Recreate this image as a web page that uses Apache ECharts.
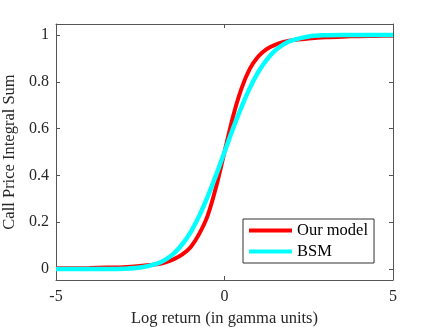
<!DOCTYPE html>
<html>
<head>
<meta charset="utf-8">
<script src="https://cdn.jsdelivr.net/npm/echarts@6/dist/echarts.min.js"></script>
<style>html,body{margin:0;padding:0;background:#fff;}#c{width:436px;height:327px;}</style>
</head>
<body>
<div id="c"></div>
<script>
var xValues = [-5, -4.5, -4, -3.5, -3, -2.5, -2, -1.75, -1.5, -1.25, -1, -0.75, -0.5, -0.25, 0, 0.25, 0.5, 0.75, 1, 1.25, 1.5, 1.75, 2, 2.5, 3, 3.5, 4, 4.5, 5];
var ourModel = [0.003, 0.0035, 0.004, 0.006, 0.008, 0.013, 0.020, 0.028, 0.042, 0.062, 0.094, 0.15, 0.228, 0.35, 0.5, 0.65, 0.77, 0.855, 0.908, 0.94, 0.958, 0.97, 0.978, 0.985, 0.99, 0.993, 0.995, 0.996, 0.997];
var bsm = [0.000, 0.000, 0.000, 0.000, 0.001, 0.006, 0.023, 0.040, 0.067, 0.106, 0.159, 0.227, 0.309, 0.401, 0.5, 0.599, 0.691, 0.773, 0.841, 0.894, 0.933, 0.960, 0.977, 0.994, 0.999, 1.0, 1.0, 1.0, 1.0];
var seriesNames = ['Our model', 'BSM'];
var yTicks = [0, 0.2, 0.4, 0.6, 0.8, 1];
var xTicks = [-5, 0, 5];

function pairs(xs, ys) { return xs.map(function (x, i) { return [x, ys[i]]; }); }

var font = 'Liberation Serif';
var axisCol = '#555';
var textCol = '#262626';
var chart = echarts.init(document.getElementById('c'));
chart.setOption({
  animation: false,
  backgroundColor: '#fff',
  textStyle: { fontFamily: font },
  grid: { left: 56, right: 43, top: 24, bottom: 47, show: false, containLabel: false, outerBoundsMode: 'none' },
  legend: {
    data: seriesNames,
    orient: 'vertical',
    left: 243, top: 219,
    borderColor: '#333', borderWidth: 1, borderRadius: 0,
    backgroundColor: '#fff',
    padding: [3, 6, 3, 6],
    itemGap: 4,
    itemWidth: 43, itemHeight: 4,
    icon: 'rect',
    textStyle: { fontFamily: font, fontSize: 16.5, color: '#000' }
  },
  xAxis: [{
    type: 'value', min: -5, max: 5, interval: 5, position: 'bottom',
    name: 'Log return (in gamma units)', nameLocation: 'middle', nameGap: 28,
    nameTextStyle: { fontFamily: font, fontSize: 16.5, color: textCol },
    axisLine: { show: true, onZero: false, lineStyle: { color: axisCol, width: 1 } },
    axisTick: { show: true, inside: true, length: 4, lineStyle: { color: axisCol } },
    axisLabel: { fontFamily: font, fontSize: 16, color: textCol, margin: 9 },
    splitLine: { show: false }
  }, {
    type: 'value', min: -5, max: 5, interval: 5, position: 'top',
    axisLine: { show: true, onZero: false, lineStyle: { color: axisCol, width: 1 } },
    axisTick: { show: true, inside: true, length: 4, lineStyle: { color: axisCol } },
    axisLabel: { show: false }, splitLine: { show: false }
  }],
  yAxis: [{
    type: 'value', min: -0.047, max: 1.047, position: 'left',
    name: 'Call Price Integral Sum', nameLocation: 'middle', nameGap: 30, nameRotate: 90,
    nameTextStyle: { fontFamily: font, fontSize: 16.5, color: textCol },
    axisLine: { show: true, onZero: false, lineStyle: { color: axisCol, width: 1 } },
    axisTick: { show: true, inside: true, length: 4, customValues: yTicks, lineStyle: { color: axisCol } },
    axisLabel: { fontFamily: font, fontSize: 16, color: textCol, margin: 7, customValues: yTicks },
    splitLine: { show: false }
  }, {
    type: 'value', min: -0.047, max: 1.047, position: 'right',
    axisLine: { show: true, onZero: false, lineStyle: { color: axisCol, width: 1 } },
    axisTick: { show: true, inside: true, length: 4, customValues: yTicks, lineStyle: { color: axisCol } },
    axisLabel: { show: false, customValues: yTicks }, splitLine: { show: false }
  }],
  series: [{
    name: seriesNames[0], type: 'line', data: pairs(xValues, ourModel),
    smooth: 0.3, showSymbol: false, symbol: 'none',
    lineStyle: { color: '#ff0000', width: 4 }, itemStyle: { color: '#ff0000' }, z: 2
  }, {
    name: seriesNames[1], type: 'line', data: pairs(xValues, bsm),
    smooth: 0.3, showSymbol: false, symbol: 'none',
    lineStyle: { color: '#00ffff', width: 4.5 }, itemStyle: { color: '#00ffff' }, z: 3
  }]
});
</script>
</body>
</html>
